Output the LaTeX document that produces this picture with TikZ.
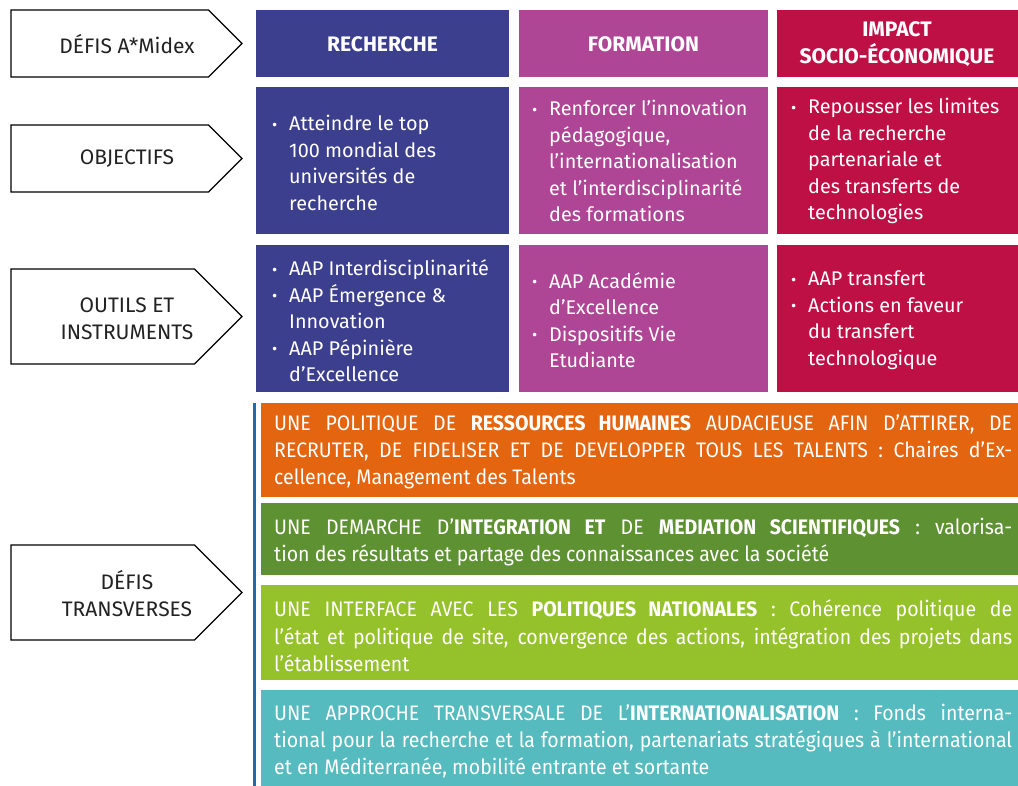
\documentclass[tikz,border=0pt]{standalone}
\usepackage{fontspec}
\setmainfont{Fira Sans}
\newfontfamily\bandfont{Fira Sans}[FakeStretch=0.93]
\definecolor{cblue}{HTML}{3C3F8E}
\definecolor{cpurple}{HTML}{AE4595}
\definecolor{ccrim}{HTML}{BF1045}
\definecolor{corange}{HTML}{E4650F}
\definecolor{cgreen}{HTML}{5E9131}
\definecolor{clime}{HTML}{95C12B}
\definecolor{cteal}{HTML}{55BBBF}
\definecolor{cline}{HTML}{1D6CB5}
\definecolor{ctext}{HTML}{222222}
\newcommand{\bl}{\makebox[17pt][l]{\raisebox{0.05ex}{\fontsize{16}{16}\selectfont •}}}
\newcommand{\ind}{\hspace*{17pt}}
\newcommand{\jl}[1]{\makebox[738pt][s]{#1}}
\begin{document}
\begin{tikzpicture}[x=1pt,y=-1pt,
  arrowshape/.style={draw=black, fill=white, line width=1.3pt, line join=miter},
  lefttext/.style={text=ctext, align=center, font=\fontsize{21}{27}\selectfont, inner sep=0pt},
  headtext/.style={text=white, align=center, font=\fontsize{21}{27}\selectfont\bfseries, inner sep=0pt},
  coltext/.style={text=white, align=left, anchor=west, font=\fontsize{19.8}{26.5}\selectfont, inner sep=0pt},
  bandtext/.style={text=white, align=left, anchor=west, font=\bandfont\fontsize{21}{27.3}\selectfont, inner sep=0pt}
]
\useasboundingbox (0,0) rectangle (1018,786);
\fill[white] (0,0) rectangle (1018,786);

% left arrows
\draw[arrowshape] (11,10) -- (208.5,10) -- (242,43.5) -- (208.5,77) -- (11,77) -- cycle;
\draw[arrowshape] (11,125) -- (208.5,125) -- (242,158.5) -- (208.5,192) -- (11,192) -- cycle;
\draw[arrowshape] (11,269) -- (194.5,269) -- (242,316.5) -- (194.5,364) -- (11,364) -- cycle;
\draw[arrowshape] (11,545) -- (194.5,545) -- (242,592.5) -- (194.5,640) -- (11,640) -- cycle;
\node[lefttext] (l1) at (127,44) {DÉFIS A*Midex};
\node[lefttext] (l2) at (127,159) {OBJECTIFS};
\node[lefttext] (l3) at (127,319) {OUTILS ET\\INSTRUMENTS};
\node[lefttext] (l4) at (127,594) {DÉFIS\\TRANSVERSES};

% columns
\fill[cblue] (256,10) rectangle (509,77);
\fill[cblue] (256,87) rectangle (509,234);
\fill[cblue] (256,245) rectangle (509,392);
\fill[cpurple] (519,10) rectangle (768,77);
\fill[cpurple] (519,87) rectangle (768,234);
\fill[cpurple] (519,245) rectangle (768,392);
\fill[ccrim] (777,10) rectangle (1018,77);
\fill[ccrim] (777,87) rectangle (1018,234);
\fill[ccrim] (777,245) rectangle (1018,392);

\node[headtext] (h1) at (382.5,44) {RECHERCHE};
\node[headtext] (h2) at (643.5,44) {FORMATION};
\node[headtext] (h3) at (897,44) {IMPACT\\SOCIO-ÉCONOMIQUE};

\node[coltext] (o1) at (272,163) {\bl Atteindre le top\\\ind 100 mondial des\\\ind universités de\\\ind recherche};
\node[coltext] (o2) at (532,161) {\bl Renforcer l’innovation\\\ind pédagogique,\\\ind l’internationalisation\\\ind et l’interdisciplinarité\\\ind des formations};
\node[coltext] (o3) at (791,161) {\bl Repousser les limites\\\ind de la recherche\\\ind partenariale et\\\ind des transferts de\\\ind technologies};

\node[coltext] (t1) at (272,321) {\bl AAP Interdisciplinarité\\\bl AAP Émergence \&\\\ind Innovation\\\bl AAP Pépinière\\\ind d’Excellence};
\node[coltext] (t2) at (532,320) {\bl AAP Académie\\\ind d’Excellence\\\bl Dispositifs Vie\\\ind Etudiante};
\node[coltext] (t3) at (791,320) {\bl AAP transfert\\\bl Actions en faveur\\\ind du transfert\\\ind technologique};

% transverse bands
\fill[cline] (253,403) rectangle (256,786);
\fill[corange] (261,403) rectangle (1018,497);
\fill[cgreen] (261,503) rectangle (1018,575);
\fill[clime] (261,585) rectangle (1018,680);
\fill[cteal] (261,690) rectangle (1018,786);

\node[bandtext] (b1) at (274,452) {\jl{UNE POLITIQUE DE \textbf{RESSOURCES HUMAINES} AUDACIEUSE AFIN D’ATTIRER, DE}\\\jl{RECRUTER, DE FIDELISER ET DE DEVELOPPER TOUS LES TALENTS : Chaires d’Ex-}\\cellence, Management des Talents};
\node[bandtext] (b2) at (274,542) {\jl{UNE DEMARCHE D’\textbf{INTEGRATION ET} DE \textbf{MEDIATION SCIENTIFIQUES} : valorisa-}\\tion des résultats et partage des connaissances avec la société};
\node[bandtext] (b3) at (274,636) {\jl{UNE INTERFACE AVEC LES \textbf{POLITIQUES NATIONALES} : Cohérence politique de}\\\jl{l’état et politique de site, convergence des actions, intégration des projets dans}\\l’établissement};
\node[bandtext] (b4) at (274,741) {\jl{UNE APPROCHE TRANSVERSALE DE L’\textbf{INTERNATIONALISATION} : Fonds interna-}\\\jl{tional pour la recherche et la formation, partenariats stratégiques à l’international}\\et en Méditerranée, mobilité entrante et sortante};
\end{tikzpicture}
\end{document}
